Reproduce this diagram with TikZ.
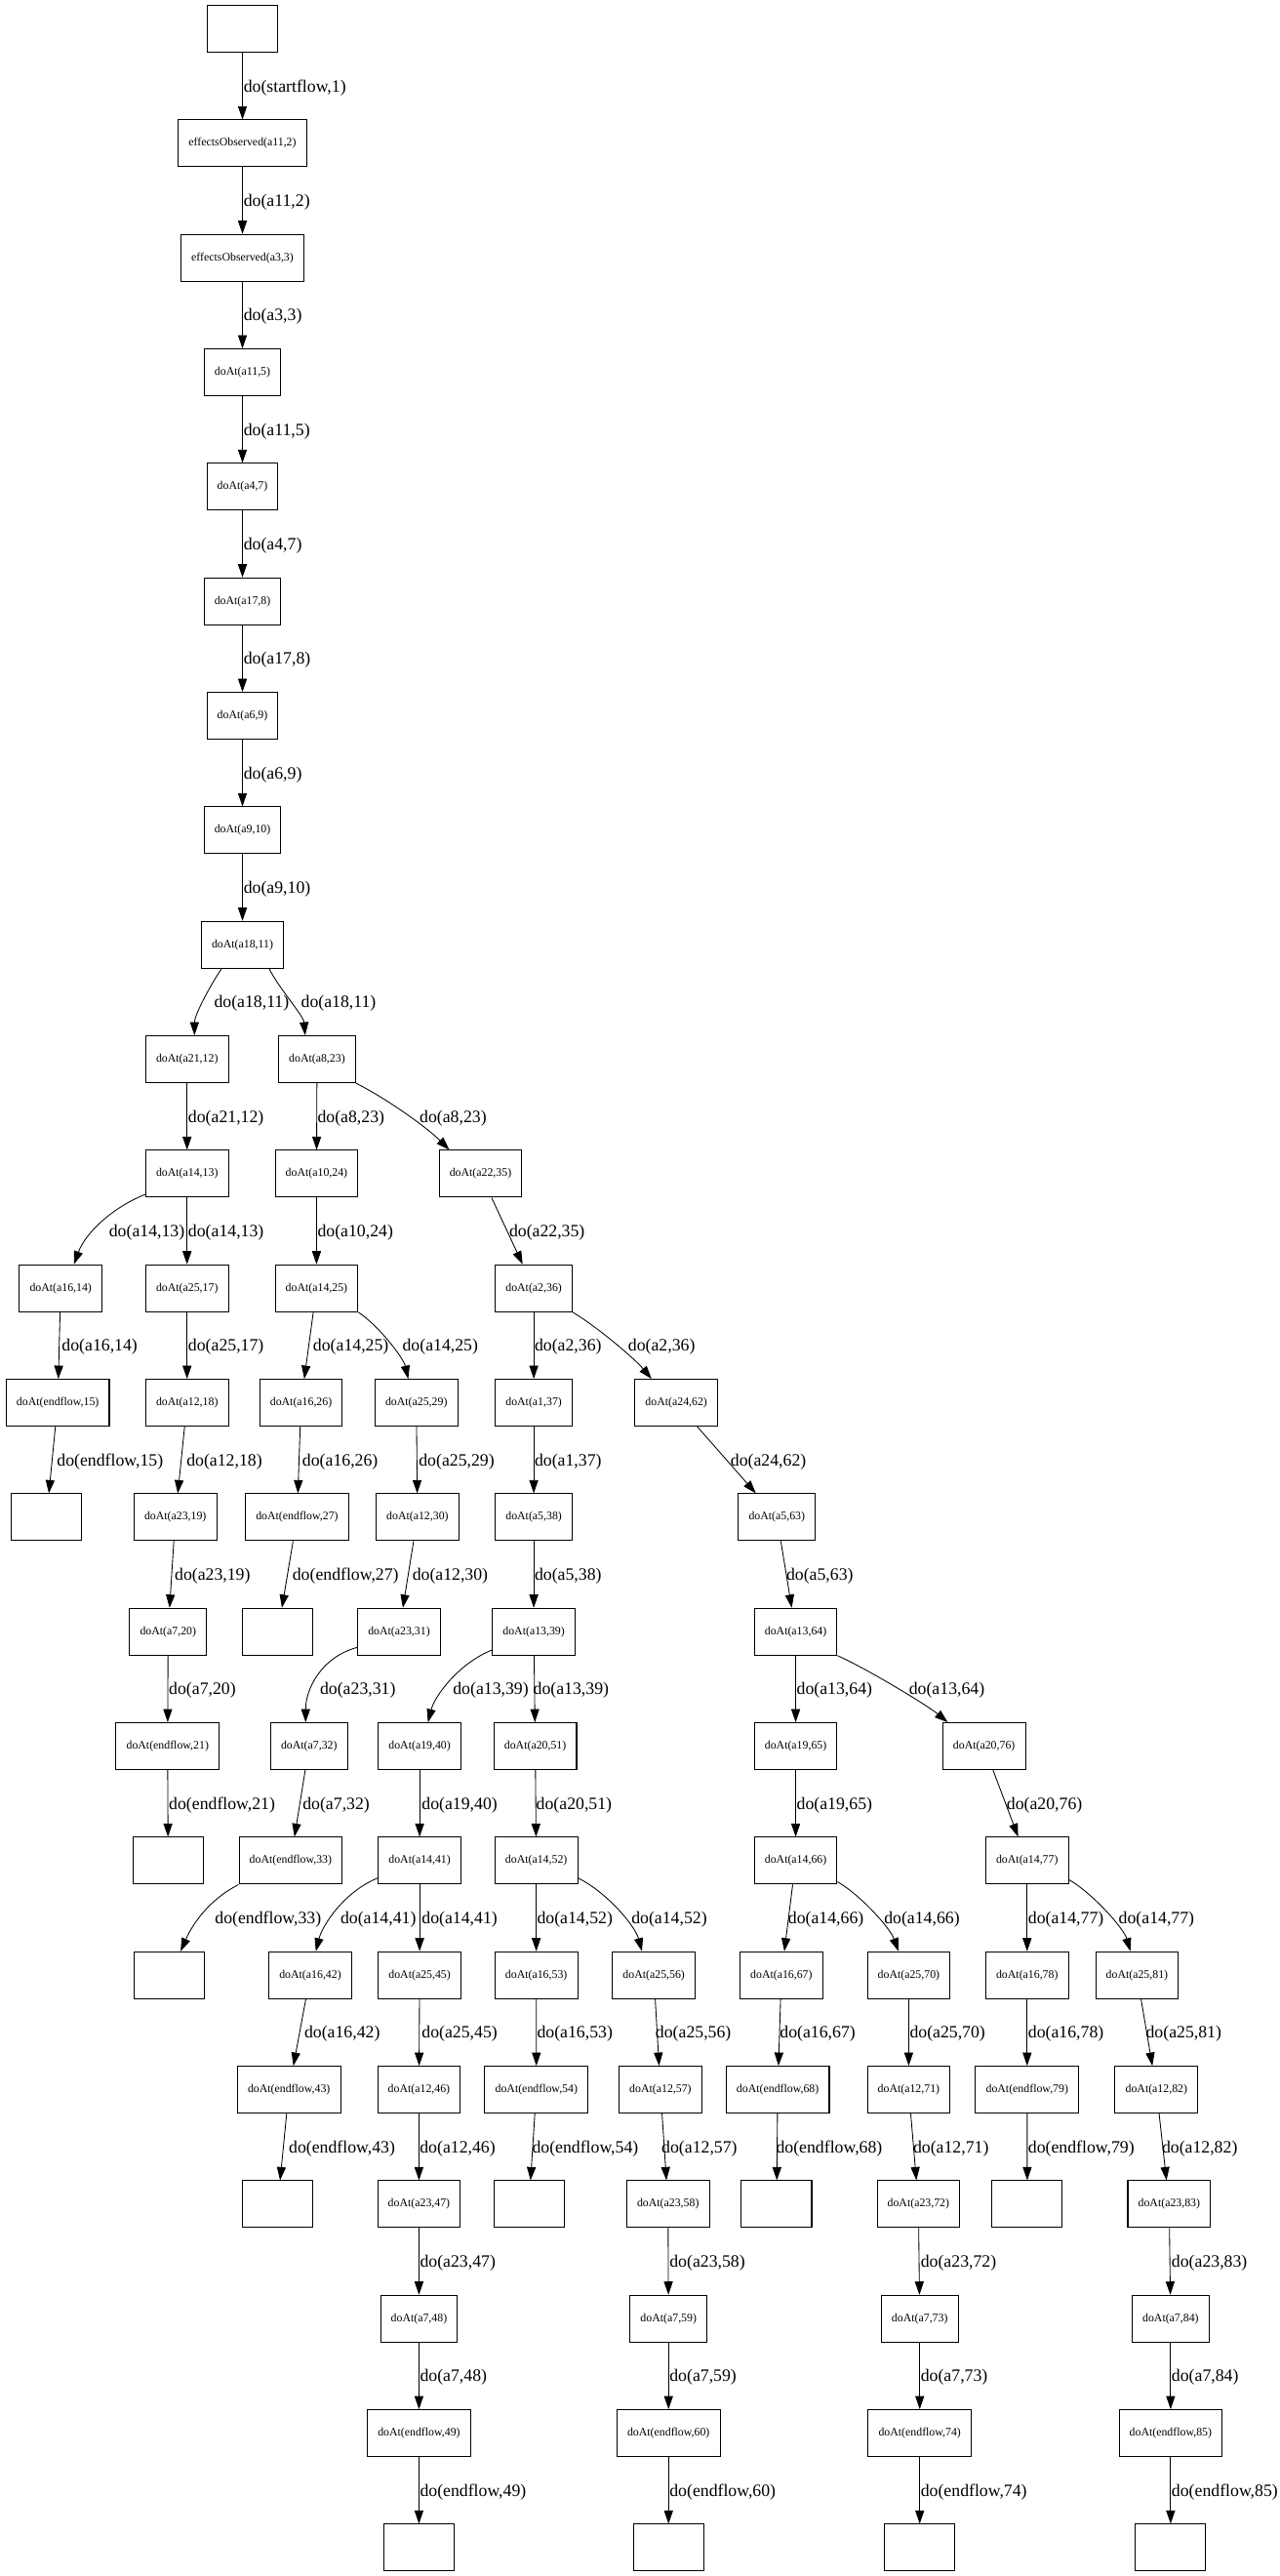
\documentclass[tikz,border=0pt]{standalone}
\usepackage{fontspec}
\setmainfont{Liberation Serif}
\usetikzlibrary{arrows.meta}

\begin{document}
\begin{tikzpicture}[x=1pt, y=-1pt,
	sit/.style={draw, line width=0.6pt, minimum width=42.6pt, minimum height=28.4pt,
		inner xsep=6.3pt, inner ysep=0pt, font=\fontsize{7}{8}\selectfont},
	elbl/.style={anchor=west, inner sep=0pt, font=\fontsize{10.5}{12}\selectfont},
	trans/.style={line width=0.5pt, -{Triangle[length=8pt,width=5.4pt]}}]
	\useasboundingbox (0,0) rectangle (776,1561.5);

	% main chain
	\node[sit] (s0) at (147,17.5) {};
	\node[sit] (o2) at (147,86.9) {effectsObserved(a11,2)};
	\node[sit] (o3) at (147,156.3) {effectsObserved(a3,3)};
	\node[sit] (n5) at (147,225.7) {doAt(a11,5)};
	\node[sit] (n7) at (147,295.1) {doAt(a4,7)};
	\node[sit] (n8) at (147,364.5) {doAt(a17,8)};
	\node[sit] (n9) at (147,433.9) {doAt(a6,9)};
	\node[sit] (n10) at (147,503.3) {doAt(a9,10)};
	\node[sit] (n11) at (147,572.7) {doAt(a18,11)};

	\node[sit] (n12) at (113.4,642.1) {doAt(a21,12)};
	\node[sit] (n23) at (192.2,642.1) {doAt(a8,23)};

	\node[sit] (n13) at (113.4,711.5) {doAt(a14,13)};
	\node[sit] (n24) at (191.9,711.5) {doAt(a10,24)};
	\node[sit] (n35) at (291.3,711.5) {doAt(a22,35)};

	\node[sit] (n14) at (36.8,780.9) {doAt(a16,14)};
	\node[sit] (n17) at (113.4,780.9) {doAt(a25,17)};
	\node[sit] (n25) at (191.9,780.9) {doAt(a14,25)};
	\node[sit] (n36) at (323.6,780.9) {doAt(a2,36)};

	\node[sit] (n15) at (35,850.3) {doAt(endflow,15)};
	\node[sit] (n18) at (113.4,850.3) {doAt(a12,18)};
	\node[sit] (n26) at (182.5,850.3) {doAt(a16,26)};
	\node[sit] (n29) at (252.4,850.3) {doAt(a25,29)};
	\node[sit] (n37) at (323.6,850.3) {doAt(a1,37)};
	\node[sit] (n62) at (410,850.3) {doAt(a24,62)};

	\node[sit] (e15) at (28.2,919.7) {};
	\node[sit] (n19) at (106.3,919.7) {doAt(a23,19)};
	\node[sit] (n27) at (180.1,919.7) {doAt(endflow,27)};
	\node[sit] (n30) at (253.1,919.7) {doAt(a12,30)};
	\node[sit] (n38) at (323.6,919.7) {doAt(a5,38)};
	\node[sit] (n63) at (471,919.7) {doAt(a5,63)};

	\node[sit] (n20) at (101.9,989.1) {doAt(a7,20)};
	\node[sit] (e27) at (168.5,989.1) {};
	\node[sit] (n31) at (241.9,989.1) {doAt(a23,31)};
	\node[sit] (n39) at (323.6,989.1) {doAt(a13,39)};
	\node[sit] (n64) at (482.4,989.1) {doAt(a13,64)};

	\node[sit] (n21) at (101.6,1058.5) {doAt(endflow,21)};
	\node[sit] (n32) at (187.4,1058.5) {doAt(a7,32)};
	\node[sit] (n40) at (254.4,1058.5) {doAt(a19,40)};
	\node[sit] (n51) at (324.5,1058.5) {doAt(a20,51)};
	\node[sit] (n65) at (482.4,1058.5) {doAt(a19,65)};
	\node[sit] (n76) at (596.6,1058.5) {doAt(a20,76)};

	\node[sit] (e21) at (101.9,1127.9) {};
	\node[sit] (n33) at (176.2,1127.9) {doAt(endflow,33)};
	\node[sit] (n41) at (254.4,1127.9) {doAt(a14,41)};
	\node[sit] (n52) at (325.1,1127.9) {doAt(a14,52)};
	\node[sit] (n66) at (482.4,1127.9) {doAt(a14,66)};
	\node[sit] (n77) at (622.7,1127.9) {doAt(a14,77)};

	\node[sit] (e33) at (102.5,1197.3) {};
	\node[sit] (n42) at (188.1,1197.3) {doAt(a16,42)};
	\node[sit] (n45) at (254.4,1197.3) {doAt(a25,45)};
	\node[sit] (n53) at (325.1,1197.3) {doAt(a16,53)};
	\node[sit] (n56) at (396.4,1197.3) {doAt(a25,56)};
	\node[sit] (n67) at (473.7,1197.3) {doAt(a16,67)};
	\node[sit] (n70) at (550.9,1197.3) {doAt(a25,70)};
	\node[sit] (n78) at (622.7,1197.3) {doAt(a16,78)};
	\node[sit] (n81) at (689.3,1197.3) {doAt(a25,81)};

	\node[sit] (n43) at (175.2,1266.7) {doAt(endflow,43)};
	\node[sit] (n46) at (254,1266.7) {doAt(a12,46)};
	\node[sit] (n54) at (325.2,1266.7) {doAt(endflow,54)};
	\node[sit] (n57) at (400.4,1266.7) {doAt(a12,57)};
	\node[sit] (n68) at (471.5,1266.7) {doAt(endflow,68)};
	\node[sit] (n71) at (550.9,1266.7) {doAt(a12,71)};
	\node[sit] (n79) at (622.7,1266.7) {doAt(endflow,79)};
	\node[sit] (n82) at (701.1,1266.7) {doAt(a12,82)};

	\node[sit] (e43) at (168.4,1336.1) {};
	\node[sit] (n47) at (254,1336.1) {doAt(a23,47)};
	\node[sit] (e54) at (320.7,1336.1) {};
	\node[sit] (n58) at (405,1336.1) {doAt(a23,58)};
	\node[sit] (e68) at (470.8,1336.1) {};
	\node[sit] (n72) at (556.8,1336.1) {doAt(a23,72)};
	\node[sit] (e79) at (622.8,1336.1) {};
	\node[sit] (n83) at (708.8,1336.1) {doAt(a23,83)};

	\node[sit] (n48) at (254,1405.5) {doAt(a7,48)};
	\node[sit] (n59) at (405.3,1405.5) {doAt(a7,59)};
	\node[sit] (n73) at (557.6,1405.5) {doAt(a7,73)};
	\node[sit] (n84) at (709.7,1405.5) {doAt(a7,84)};

	\node[sit] (n49) at (254,1474.9) {doAt(endflow,49)};
	\node[sit] (n60) at (405.3,1474.9) {doAt(endflow,60)};
	\node[sit] (n74) at (557.6,1474.9) {doAt(endflow,74)};
	\node[sit] (n85) at (709.7,1474.9) {doAt(endflow,85)};

	\node[sit] (e49) at (254,1544.3) {};
	\node[sit] (e60) at (405.3,1544.3) {};
	\node[sit] (e74) at (557.6,1544.3) {};
	\node[sit] (e85) at (709.7,1544.3) {};

	% transitions of the main chain
	\draw[trans] (s0) -- (o2) node[elbl] (t2) at (147.5,53.2) {do(startflow,1)};
	\draw[trans] (o2) -- (o3) node[elbl] (t3) at (147.5,122.6) {do(a11,2)};
	\draw[trans] (o3) -- (n5) node[elbl] (t5) at (147.5,192) {do(a3,3)};
	\draw[trans] (n5) -- (n7) node[elbl] (t7) at (147.5,261.4) {do(a11,5)};
	\draw[trans] (n7) -- (n8) node[elbl] (t8) at (147.5,330.8) {do(a4,7)};
	\draw[trans] (n8) -- (n9) node[elbl] (t9) at (147.5,400.2) {do(a17,8)};
	\draw[trans] (n9) -- (n10) node[elbl] (t10) at (147.5,469.6) {do(a6,9)};
	\draw[trans] (n10) -- (n11) node[elbl] (t11) at (147.5,539) {do(a9,10)};
	\draw[trans] ([xshift=-12.7pt]n11.south) .. controls +(-8,12) and +(0,-12) .. ([xshift=4.5pt]n12.north)
		node[elbl] (t12) at (129.6,608.4) {do(a18,11)};
	\draw[trans] ([xshift=16.2pt]n11.south) .. controls +(6,12) and +(-1,-12) .. ([xshift=-7.2pt]n23.north)
		node[elbl] (t23) at (182.3,608.4) {do(a18,11)};

	% left branch
	\draw[trans] (n12) -- (n13) node[elbl] (t13) at (113.9,677.8) {do(a21,12)};
	\draw[trans] ([yshift=2pt]n13.south west) .. controls +(-20,8) and +(7,-19) .. ([xshift=8pt]n14.north)
		node[elbl] (t14) at (65.9,747.2) {do(a14,13)};
	\draw[trans] (n13) -- (n17) node[elbl] (t17) at (113.9,747.2) {do(a14,13)};
	\draw[trans] (n14) -- (n15) node[elbl] (t15) at (37.3,816.6) {do(a16,14)};
	\draw[trans] (n15) -- (e15) node[elbl] (te15) at (34.3,886) {do(endflow,15)};
	\draw[trans] (n17) -- (n18) node[elbl] (t18) at (113.9,816.6) {do(a25,17)};
	\draw[trans] (n18) -- (n19) node[elbl] (t19) at (112.9,886) {do(a12,18)};
	\draw[trans] (n19) -- (n20) node[elbl] (t20) at (105.7,955.4) {do(a23,19)};
	\draw[trans] (n20) -- (n21) node[elbl] (t21) at (102.2,1024.8) {do(a7,20)};
	\draw[trans] (n21) -- (e21) node[elbl] (te21) at (102.2,1094.2) {do(endflow,21)};

	% middle branch
	\draw[trans] (n23) -- (n24) node[elbl] (t24) at (192.3,677.8) {do(a8,23)};
	\draw[trans] (n23.south east) .. controls +(18,9) and +(-14,-14) .. ([xshift=-18.9pt]n35.north)
		node[elbl] (t35) at (254.2,677.8) {do(a8,23)};
	\draw[trans] (n24) -- (n25) node[elbl] (t25) at (192.3,747.2) {do(a10,24)};
	\draw[trans] (n25) -- (n26) node[elbl] (t26) at (189.6,816.6) {do(a14,25)};
	\draw[trans] (n25.south east) .. controls +(12,8) and +(-3,-13) .. ([xshift=-4.9pt]n29.north)
		node[elbl] (t29) at (243.8,816.6) {do(a14,25)};
	\draw[trans] (n26) -- (n27) node[elbl] (t27) at (183.1,886) {do(a16,26)};
	\draw[trans] (n27) -- (e27) node[elbl] (te27) at (177.1,955.4) {do(endflow,27)};
	\draw[trans] (n29) -- (n30) node[elbl] (t30) at (253.7,886) {do(a25,29)};
	\draw[trans] (n30) -- (n31) node[elbl] (t31) at (249.8,955.4) {do(a12,30)};
	\draw[trans] ([yshift=5pt]n31.south west) .. controls +(-22,6) and +(0,-20) .. ([xshift=-2.1pt]n32.north)
		node[elbl] (t32) at (193.8,1024.8) {do(a23,31)};
	\draw[trans] (n32) -- (n33) node[elbl] (t33) at (183.3,1094.2) {do(a7,32)};
	\draw[trans] (n33.south west) .. controls +(-18,9) and +(7,-16) .. ([xshift=7pt]e33.north)
		node[elbl] (te33) at (130.1,1163.6) {do(endflow,33)};

	% right branch
	\draw[trans] (n35) -- (n36) node[elbl] (t36) at (308.5,747.2) {do(a22,35)};
	\draw[trans] (n36) -- (n37) node[elbl] (t37) at (323.9,816.6) {do(a2,36)};
	\draw[trans] (n36.south east) .. controls +(15,9) and +(-10,-12) .. ([xshift=-15pt]n62.north)
		node[elbl] (t62) at (380.6,816.6) {do(a2,36)};
	\draw[trans] (n37) -- (n38) node[elbl] (t38) at (323.9,886) {do(a1,37)};
	\draw[trans] (n38) -- (n39) node[elbl] (t39) at (323.9,955.4) {do(a5,38)};
	\draw[trans] ([yshift=3.4pt]n39.south west) .. controls +(-20,8) and +(4,-16) .. ([xshift=5.1pt]n40.north)
		node[elbl] (t40) at (274.4,1024.8) {do(a13,39)};
	\draw[trans] (n39) -- (n51) node[elbl] (t51) at (323.1,1024.8) {do(a13,39)};
	\draw[trans] (n40) -- (n41) node[elbl] (t41) at (255.5,1094.2) {do(a19,40)};
	\draw[trans] ([yshift=4pt]n41.south west) .. controls +(-20,8) and +(4,-16) .. ([xshift=3.4pt]n42.north)
		node[elbl] (t42) at (206.2,1163.6) {do(a14,41)};
	\draw[trans] (n41) -- (n45) node[elbl] (t45) at (255.5,1163.6) {do(a14,41)};
	\draw[trans] (n42) -- (n43) node[elbl] (t43) at (184.3,1233) {do(a16,42)};
	\draw[trans] (n43) -- (e43) node[elbl] (te43) at (174.9,1302.4) {do(endflow,43)};
	\draw[trans] (n45) -- (n46) node[elbl] (t46) at (255.5,1233) {do(a25,45)};
	\draw[trans] (n46) -- (n47) node[elbl] (t47) at (254.3,1302.4) {do(a12,46)};
	\draw[trans] (n47) -- (n48) node[elbl] (t48) at (254.4,1371.8) {do(a23,47)};
	\draw[trans] (n48) -- (n49) node[elbl] (t49) at (254.4,1441.2) {do(a7,48)};
	\draw[trans] (n49) -- (e49) node[elbl] (te49) at (254.4,1510.6) {do(endflow,49)};
	\draw[trans] (n51) -- (n52) node[elbl] (t52) at (324.9,1094.2) {do(a20,51)};
	\draw[trans] (n52) -- (n53) node[elbl] (t53) at (325.4,1163.6) {do(a14,52)};
	\draw[trans] ([yshift=4pt]n52.south east) .. controls +(18,9) and +(-4,-15) .. ([xshift=-7.2pt]n56.north)
		node[elbl] (t56) at (382.6,1163.6) {do(a14,52)};
	\draw[trans] (n53) -- (n54) node[elbl] (t54) at (325.4,1233) {do(a16,53)};
	\draw[trans] (n54) -- (e54) node[elbl] (te54) at (322.4,1302.4) {do(endflow,54)};
	\draw[trans] (n56) -- (n57) node[elbl] (t57) at (397.2,1233) {do(a25,56)};
	\draw[trans] (n57) -- (n58) node[elbl] (t58) at (400.9,1302.4) {do(a12,57)};
	\draw[trans] (n58) -- (n59) node[elbl] (t59) at (405.7,1371.8) {do(a23,58)};
	\draw[trans] (n59) -- (n60) node[elbl] (t60) at (405.7,1441.2) {do(a7,59)};
	\draw[trans] (n60) -- (e60) node[elbl] (te60) at (405.7,1510.6) {do(endflow,60)};

	% far right branch
	\draw[trans] (n62) -- (n63) node[elbl] (t63) at (442.7,886) {do(a24,62)};
	\draw[trans] (n63) -- (n64) node[elbl] (t64) at (476.5,955.4) {do(a5,63)};
	\draw[trans] (n64) -- (n65) node[elbl] (t65) at (482.8,1024.8) {do(a13,64)};
	\draw[trans] (n64.south east) .. controls +(18,8) and +(-12,-10) .. ([xshift=-22pt]n76.north)
		node[elbl] (t76) at (550.9,1024.8) {do(a13,64)};
	\draw[trans] (n65) -- (n66) node[elbl] (t66) at (482.8,1094.2) {do(a19,65)};
	\draw[trans] (n66) -- (n67) node[elbl] (t67) at (477.6,1163.6) {do(a14,66)};
	\draw[trans] ([yshift=1.7pt]n66.south east) .. controls +(14,8) and +(-5,-14) .. ([xshift=-6.2pt]n70.north)
		node[elbl] (t70) at (535.8,1163.6) {do(a14,66)};
	\draw[trans] (n67) -- (n68) node[elbl] (t68) at (472.6,1233) {do(a16,67)};
	\draw[trans] (n68) -- (e68) node[elbl] (te68) at (470.3,1302.4) {do(endflow,68)};
	\draw[trans] (n70) -- (n71) node[elbl] (t71) at (551.3,1233) {do(a25,70)};
	\draw[trans] (n71) -- (n72) node[elbl] (t72) at (553.4,1302.4) {do(a12,71)};
	\draw[trans] (n72) -- (n73) node[elbl] (t73) at (558,1371.8) {do(a23,72)};
	\draw[trans] (n73) -- (n74) node[elbl] (t74) at (558,1441.2) {do(a7,73)};
	\draw[trans] (n74) -- (e74) node[elbl] (te74) at (558,1510.6) {do(endflow,74)};
	\draw[trans] (n76) -- (n77) node[elbl] (t77) at (610.1,1094.2) {do(a20,76)};
	\draw[trans] (n77) -- (n78) node[elbl] (t78) at (623.1,1163.6) {do(a14,77)};
	\draw[trans] ([yshift=3pt]n77.south east) .. controls +(14,8) and +(-4,-14) .. ([xshift=-4pt]n81.north)
		node[elbl] (t81) at (678,1163.6) {do(a14,77)};
	\draw[trans] (n78) -- (n79) node[elbl] (t79) at (623.1,1233) {do(a16,78)};
	\draw[trans] (n79) -- (e79) node[elbl] (te79) at (623.1,1302.4) {do(endflow,79)};
	\draw[trans] (n81) -- (n82) node[elbl] (t82) at (694.5,1233) {do(a25,81)};
	\draw[trans] (n82) -- (n83) node[elbl] (t83) at (704.2,1302.4) {do(a12,82)};
	\draw[trans] (n83) -- (n84) node[elbl] (t84) at (710.1,1371.8) {do(a23,83)};
	\draw[trans] (n84) -- (n85) node[elbl] (t85) at (710.1,1441.2) {do(a7,84)};
	\draw[trans] (n85) -- (e85) node[elbl] (te85) at (710.1,1510.6) {do(endflow,85)};
\end{tikzpicture}
\end{document}
